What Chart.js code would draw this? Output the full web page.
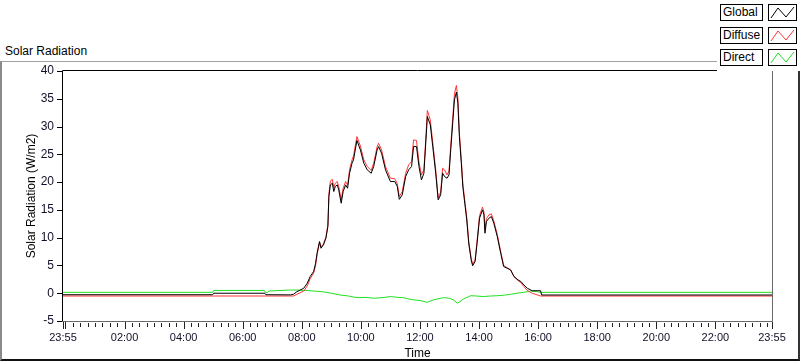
<!DOCTYPE html>
<html>
<head>
<meta charset="utf-8">
<script src="https://cdn.jsdelivr.net/npm/chart.js@4.4.1/dist/chart.umd.min.js"></script>
<style>
html,body{margin:0;padding:0;background:#fff;}
#wrap{position:relative;width:800px;height:361px;overflow:hidden;font-family:'Liberation Sans',Arial,sans-serif;color:#000;}
#frame{position:absolute;left:0;top:61px;width:800px;height:300px;box-sizing:border-box;border-top:1px solid #a0a0a0;border-left:2px solid #8a8a8a;border-right:2px solid #333;border-bottom:2px solid #111;}
#title{position:absolute;left:5px;top:44px;font-size:12px;}
#chart{position:absolute;left:0;top:0;}
#legend{position:absolute;left:717px;top:0;width:83px;height:71px;background:#fff;}
.row{position:absolute;left:3px;height:17px;}
.lbl{position:absolute;left:0;top:0;width:43px;height:17px;box-sizing:border-box;border:1px solid #000;font-size:12px;line-height:15px;padding-left:2px;}
.sw{position:absolute;left:48px;top:0;width:29px;height:17px;box-sizing:border-box;border:1px solid #000;}
</style>
</head>
<body>
<div id="wrap">
  <div id="frame"></div>
  <div id="title">Solar Radiation</div>
  <canvas id="chart" width="800" height="361"></canvas>
  <div id="legend"></div>
</div>
<script>
/* ── DATA ── minutes counted from 23:55 of the day before */
const sunTimes = [0,304,306,410,412,462,468,475,489,496,502,509,513,516,521,524,529,534,538,540,543,547,550,553,557,560,565,569,574,578,582,587,590,597,604,611,618,626,631,638,641,647,655,665,674,679,683,689,696,702,708,712,718,723,728,733,738,740,746,751,757,762,767,771,775,780,784,787,792,795,799,802,805,809,812,816,820,824,829,832,837,841,846,852,855,857,860,865,870,875,882,889,895,902,909,916,924,930,936,943,953,970,972,1440];
const globalVals = [-0.27,-0.27,0,0,-0.27,-0.3,-0.2,0.27,0.9,1.8,3.0,3.9,5.4,7.2,9.3,8.1,8.7,9.9,12.0,17.4,19.5,19.8,18.3,19.2,19.5,18.6,16.2,18.3,19.5,18.9,21.6,23.4,24.0,27.5,25.8,23.4,22.2,21.6,22.8,25.8,26.4,25.2,22.2,20.1,20.1,19.2,16.9,17.7,21.0,22.2,22.8,26.4,26.4,22.8,20.4,21.6,28.8,31.8,30.3,26.4,21.6,16.8,17.7,21.6,21.0,20.7,21.3,25.2,31.2,34.8,36.2,34.2,28.2,23.4,19.2,16.2,13.2,9.0,6.0,4.95,5.7,9.0,13.5,15.0,14.1,10.8,12.9,13.5,13.8,12.6,10.2,7.2,4.8,4.5,4.2,3.0,2.4,2.1,1.5,0.9,0.45,0.45,-0.32,-0.32];
const diffuseVals = [-0.5,-0.5,-0.5,-0.5,-0.5,-0.5,-0.5,-0.2,0.4,1.3,2.6,3.6,5.0,6.9,9.2,8.3,8.9,10.1,12.3,17.8,20.2,20.5,19.0,19.8,20.1,19.2,16.8,18.9,20.1,19.5,22.2,24.0,24.7,28.2,26.5,24.0,22.8,22.1,23.4,26.4,27.0,25.8,22.8,20.7,20.6,19.7,17.4,18.3,21.6,23.1,23.7,27.6,27.5,23.6,21.3,22.2,29.7,32.9,31.2,27.1,22.2,17.2,18.2,22.5,22.2,21.3,22.0,26.0,32.1,35.9,37.4,35.2,29.0,24.0,19.8,16.7,13.7,9.4,6.3,5.2,6.0,9.4,14.0,15.5,14.6,11.4,13.4,14.1,14.3,13.0,10.6,7.5,5.0,4.6,4.2,3.0,2.3,1.9,1.2,0.5,0.0,-0.5,-0.5,-0.5];
const directTimes = [0,304,306,409,411,416,418,462,475,489,502,515,529,545,563,580,597,615,631,648,665,680,692,700,712,725,740,752,762,773,785,793,801,808,814,828,840,854,868,882,896,909,922,936,950,963,970,1440];
const directVals = [0.16,0.16,0.5,0.5,0.16,0.16,0.4,0.58,0.58,0.5,0.45,0.35,0.25,0.0,-0.32,-0.5,-0.8,-0.75,-0.9,-0.8,-0.6,-0.75,-0.8,-1.0,-1.2,-1.3,-1.65,-1.2,-1.0,-0.8,-0.9,-1.2,-1.8,-1.4,-1.0,-0.45,-0.5,-0.6,-0.5,-0.45,-0.35,-0.2,0.0,0.16,0.4,0.27,0.16,0.16];

const seriesNames = ['Global','Diffuse','Direct'];
const seriesColors = ['#000000','#ff3333','#1ee01e'];
const xTickLabels = ['23:55','02:00','04:00','06:00','08:00','10:00','12:00','14:00','16:00','18:00','20:00','22:00','23:55'];
const yTicks = [-5,0,5,10,15,20,25,30,35,40];

/* ── TICKS ── */
const toMin = (s, i) => i === 0 ? 0 : (i === xTickLabels.length - 1 ? 1440 : (+s.slice(0,2)) * 60 + (+s.slice(3)) + 5);
const majorPos = xTickLabels.map(toMin);
const labelAt = {}; majorPos.forEach((p, i) => labelAt[p] = xTickLabels[i]);
const minorPos = [];
for (let m = 5; m < 1440; m += 15) minorPos.push(m);

/* ── LEGEND ── */
const legend = document.getElementById('legend');
seriesNames.forEach((n, i) => {
  const r = document.createElement('div');
  r.className = 'row';
  r.style.top = [4, 27, 49][i] + 'px';
  r.innerHTML = '<div class="lbl">' + n + '</div><div class="sw"><svg width="27" height="15"><polyline points="2,13 9,3 17,12 25,2" fill="none" stroke="' + seriesColors[i] + '" stroke-width="1"/></svg></div>';
  legend.appendChild(r);
});

/* ── AXIS MARKS ── */
const axisMarks = {
  id: 'axisMarks',
  afterDraw(chart) {
    const {ctx, chartArea: a, scales: {x, y}} = chart;
    ctx.save();
    ctx.lineWidth = 1;
    ctx.strokeStyle = '#000';
    ctx.beginPath();
    ctx.moveTo(a.left - 0.5, a.bottom); ctx.lineTo(a.left - 0.5, a.top - 0.5); ctx.lineTo(a.right + 0.5, a.top - 0.5);
    ctx.stroke();
    ctx.strokeStyle = '#6a6a6a';
    ctx.beginPath();
    ctx.moveTo(a.right + 0.5, a.top); ctx.lineTo(a.right + 0.5, a.bottom + 0.5); ctx.lineTo(a.left - 1, a.bottom + 0.5);
    ctx.stroke();
    ctx.strokeStyle = '#000';
    yTicks.forEach(v => {
      const py = Math.round(y.getPixelForValue(v)) + 0.5;
      ctx.beginPath(); ctx.moveTo(a.left - 6, py); ctx.lineTo(a.left - 1, py); ctx.stroke();
    });
    ctx.strokeStyle = '#222';
    minorPos.forEach(v => {
      const px = Math.round(x.getPixelForValue(v)) + 0.5;
      ctx.beginPath(); ctx.moveTo(px, a.bottom + 2); ctx.lineTo(px, a.bottom + 6); ctx.stroke();
    });
    majorPos.concat([5]).forEach(v => {
      const px = Math.round(x.getPixelForValue(v)) + 0.5;
      ctx.beginPath(); ctx.moveTo(px, a.bottom + 1); ctx.lineTo(px, a.bottom + 8); ctx.stroke();
    });
    ctx.restore();
  }
};

/* ── CHART ── */
Chart.defaults.font.family = "'Liberation Sans', Arial, sans-serif";
Chart.defaults.color = '#101028';

const line = (i, times, vals, order) => ({
  label: seriesNames[i],
  data: times.map((t, k) => ({x: t, y: vals[k]})),
  borderColor: seriesColors[i],
  borderWidth: 1,
  pointRadius: 0,
  tension: 0,
  fill: false,
  order: order
});

new Chart(document.getElementById('chart'), {
  type: 'line',
  data: {
    datasets: [
      line(0, sunTimes, globalVals, 0),
      line(1, sunTimes, diffuseVals, 1),
      line(2, directTimes, directVals, 2)
    ]
  },
  options: {
    responsive: false,
    animation: false,
    layout: {padding: {left: 0, right: 28, top: 71, bottom: 0}},
    plugins: {legend: {display: false}, tooltip: {enabled: false}},
    scales: {
      x: {
        type: 'linear', min: 0, max: 1440,
        grid: {display: false, drawTicks: false},
        border: {display: false},
        afterBuildTicks: s => { s.ticks = majorPos.map(v => ({value: v})); },
        afterFit: s => { s.height = 40; },
        ticks: {autoSkip: false, maxRotation: 0, padding: 10, font: {size: 11}, callback: v => labelAt[v] || ''},
        title: {display: true, text: 'Time', font: {size: 12}, padding: {top: 0, bottom: 0}, color: '#000'}
      },
      y: {
        min: -5, max: 40,
        grid: {display: false, drawTicks: false},
        border: {display: false},
        afterBuildTicks: s => { s.ticks = yTicks.map(v => ({value: v})); },
        afterFit: s => { s.width = 63; },
        ticks: {padding: 9, font: {size: 12}},
        title: {display: true, text: 'Solar Radiation (W/m2)', font: {size: 12}, padding: {top: 24, bottom: 0}, color: '#000'}
      }
    }
  },
  plugins: [axisMarks]
});
</script>
</body>
</html>
